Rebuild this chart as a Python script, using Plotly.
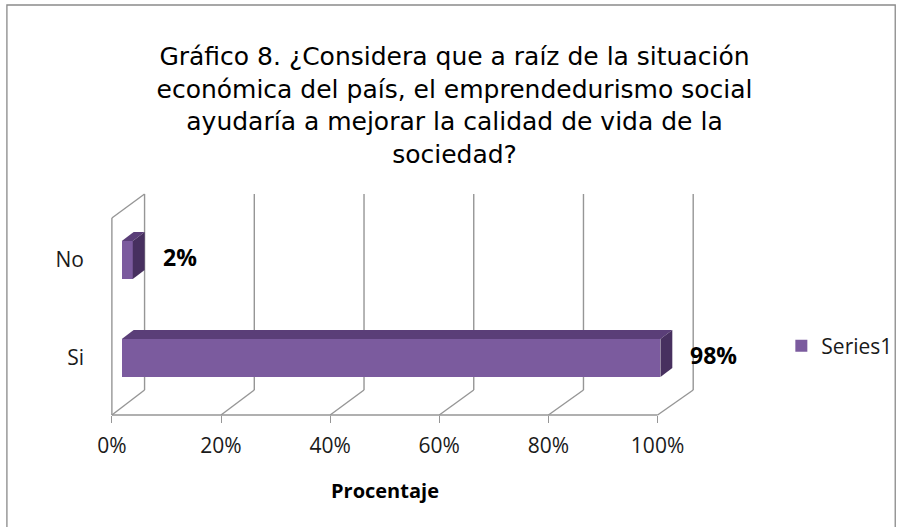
import plotly.graph_objects as go

# ---------------- data ----------------
categories = ["Si", "No"]
values = [0.98, 0.02]
value_labels = ["98%", "2%"]
x_ticks = [0, 0.2, 0.4, 0.6, 0.8, 1.0]
x_tick_labels = ["0%", "20%", "40%", "60%", "80%", "100%"]
series_name = "Series1"
title_lines = [
    "Gráfico 8. ¿Considera que a raíz de la situación",
    "económica del país, el emprendedurismo social",
    "ayudaría a mejorar la calidad de vida de la",
    "sociedad?",
]
axis_title = "Procentaje"

# ---------------- geometry (pixels) ----------------
W, H = 909, 527
L, R, T, B = 100, 720, 190, 415          # plot area
BAR_X0, BAR_SX = 122, 555                # bar plane: value 0 -> px, px per unit
FRONT_X0, FRONT_SX, FRONT_Y = 112, 551, 415
BACK_X0, BACK_SX, BACK_Y, WALL_TOP = 145, 554, 390, 194
LEFT_FRONT_TOP = 218
DEPTH_DX, DEPTH_DY = 12, 9
ROW_PX, ROW0_Y = 98, 358
BAR_W = 0.39

FRONT = "#7B5B9E"
TOP = "#5A3E78"
SIDE = "#47305F"
GRID = "#969696"
TEXT = "#1a1a1a"
CAL = "Open Sans, Lato, sans-serif"

x_range = [(L - BAR_X0) / BAR_SX, (R - BAR_X0) / BAR_SX]
x2_range = [(L - FRONT_X0) / FRONT_SX, (R - FRONT_X0) / FRONT_SX]
y_range = [(ROW0_Y - B) / ROW_PX, (ROW0_Y - T) / ROW_PX]


def px_x(px):
    return (px - L) / (R - L)


def px_y(py):
    return (B - py) / (B - T)


positions = list(range(len(categories)))
dx = DEPTH_DX / BAR_SX
dy = DEPTH_DY / ROW_PX

fig = go.Figure()

# bar front faces
fig.add_trace(go.Bar(
    x=values, y=positions, orientation="h", width=BAR_W,
    marker=dict(color=FRONT, line=dict(width=0)),
    name=series_name, showlegend=True, hoverinfo="skip",
))

# 3D top and side faces, derived from the values
for v, p in zip(values, positions):
    yt, yb = p + BAR_W / 2, p - BAR_W / 2
    fig.add_trace(go.Scatter(
        x=[0, v, v + dx, dx, 0], y=[yt, yt, yt + dy, yt + dy, yt],
        mode="lines", fill="toself", fillcolor=TOP,
        line=dict(width=0, color=TOP), showlegend=False, hoverinfo="skip"))
    fig.add_trace(go.Scatter(
        x=[v, v, v + dx, v + dx, v], y=[yb, yt, yt + dy, yb + dy, yb],
        mode="lines", fill="toself", fillcolor=SIDE,
        line=dict(width=0, color=SIDE), showlegend=False, hoverinfo="skip"))

# invisible trace carrying the front (floor) axis
fig.add_trace(go.Scatter(x=[x_ticks[0], x_ticks[-1]], y=[None, None],
                         xaxis="x2", yaxis="y", mode="markers",
                         showlegend=False, hoverinfo="skip"))

# ---------------- frame (walls / floor) ----------------
shapes = []


def seg(x0, y0, x1, y1, color=GRID, width=1.4):
    shapes.append(dict(type="line", xref="paper", yref="paper",
                       x0=px_x(x0), y0=px_y(y0), x1=px_x(x1), y1=px_y(y1),
                       line=dict(color=color, width=width), layer="below"))


for t in x_ticks:
    bx = BACK_X0 + BACK_SX * t
    fx = FRONT_X0 + FRONT_SX * t
    seg(bx, WALL_TOP, bx, BACK_Y)          # back wall gridline
    seg(fx, FRONT_Y, bx, BACK_Y)           # floor diagonal
seg(BACK_X0, WALL_TOP, FRONT_X0, LEFT_FRONT_TOP)          # left wall top edge
seg(FRONT_X0, LEFT_FRONT_TOP, FRONT_X0, FRONT_Y)          # left wall front edge
seg(FRONT_X0, FRONT_Y, FRONT_X0 + FRONT_SX * x_ticks[-1], FRONT_Y)  # floor front

# chart border
shapes.append(dict(type="rect", xref="paper", yref="paper",
                   x0=px_x(6), y0=px_y(5), x1=px_x(903), y1=px_y(531),
                   line=dict(color="#8a8a8a", width=1.3), layer="below"))

annotations = []
for v, p, lab in zip(values, positions, value_labels):
    annotations.append(dict(x=v + dx, y=p, xref="x", yref="y", text=lab,
                            showarrow=False, xanchor="left", yanchor="middle",
                            xshift=16, yshift=3,
                            font=dict(family=CAL, size=23, color="#000",
                                      weight="bold")))
annotations.append(dict(x=(x_ticks[0] + x_ticks[-1]) / 2, y=px_y(490),
                        xref="x2", yref="paper", text=axis_title,
                        showarrow=False, xanchor="center", yanchor="middle",
                        font=dict(family=CAL, size=20, color="#000",
                                  weight="bold")))

fig.update_layout(
    width=W, height=H,
    margin=dict(l=L, r=W - R, t=T, b=H - B),
    paper_bgcolor="white", plot_bgcolor="rgba(0,0,0,0)",
    title=dict(text="<br>".join(title_lines), x=0.5, xanchor="center",
               y=1 - 65 / H, yanchor="top",
               font=dict(family="DejaVu Sans", size=25, color="#000")),
    xaxis=dict(range=x_range, visible=False, fixedrange=True),
    xaxis2=dict(range=x2_range, overlaying="x", anchor="y", side="bottom",
                tickvals=x_ticks, ticktext=x_tick_labels,
                ticks="outside", ticklen=7, tickcolor=GRID, tickwidth=1.4,
                ticklabelstandoff=5,
                showgrid=False, zeroline=False, showline=False,
                tickfont=dict(family=CAL, size=21, color=TEXT)),
    yaxis=dict(range=y_range, tickvals=positions, ticktext=categories,
               showgrid=False, zeroline=False, showline=False, ticks="",
               ticklabelstandoff=15,
               tickfont=dict(family=CAL, size=21, color=TEXT)),
    legend=dict(x=px_x(788), xanchor="left", y=px_y(346), yanchor="middle",
                font=dict(family=CAL, size=21, color=TEXT),
                bgcolor="rgba(0,0,0,0)", borderwidth=0),
    shapes=shapes,
    annotations=annotations,
    bargap=0,
)

fig.write_html("out.html")
